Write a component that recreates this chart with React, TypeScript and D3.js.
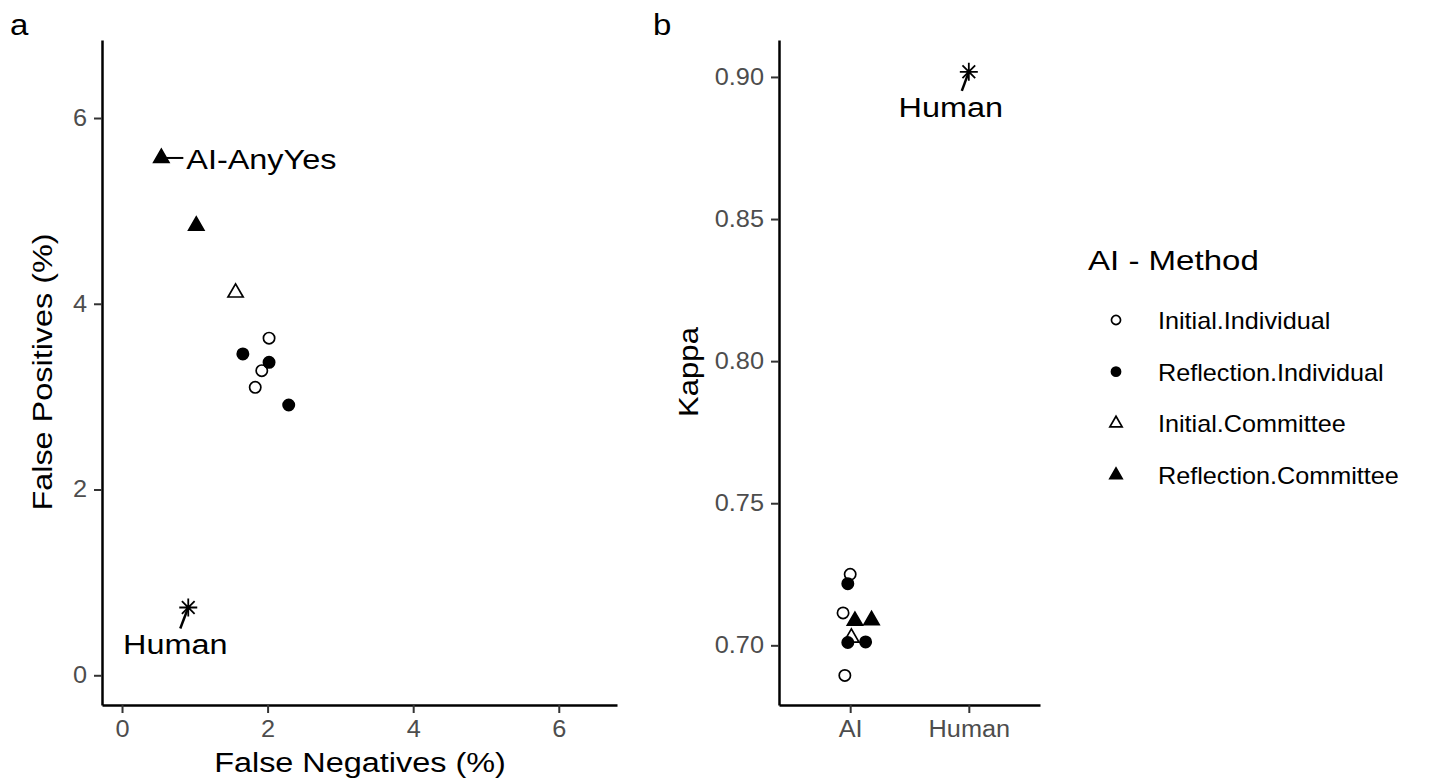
import React, { useEffect, useRef } from "react";
import * as d3 from "d3";

// panel a: false negatives / false positives (%)
const methods = ["Initial.Individual", "Reflection.Individual", "Initial.Committee", "Reflection.Committee"];
const aMethod = ["Reflection.Committee", "Reflection.Committee", "Initial.Committee", "Initial.Individual", "Reflection.Individual", "Reflection.Individual", "Initial.Individual", "Initial.Individual", "Reflection.Individual"];
const aFalseNeg = [0.54, 1.02, 1.56, 2.02, 1.66, 2.02, 1.92, 1.83, 2.29];
const aFalsePos = [5.57, 4.84, 4.12, 3.63, 3.46, 3.37, 3.28, 3.10, 2.91];
const humanFN = 0.91;
const humanFP = 0.73;

// panel b: kappa
const bGroups = ["AI", "Human"];
const bMethod = ["Initial.Individual", "Reflection.Individual", "Initial.Individual", "Reflection.Committee", "Reflection.Committee", "Initial.Committee", "Reflection.Individual", "Reflection.Individual", "Initial.Individual"];
const bKappa = [0.725, 0.7217, 0.7114, 0.7086, 0.7088, 0.7027, 0.701, 0.7012, 0.6894];
const bJitter = [0.0, -0.02, -0.06, 0.04, 0.18, 0.01, -0.02, 0.13, -0.045];
const humanKappa = 0.9018;

const xTicksA = [0, 2, 4, 6];
const yTicksA = [0, 2, 4, 6];
const yTicksB = [0.7, 0.75, 0.8, 0.85, 0.9];

const FONT = "'Liberation Sans', Arial, sans-serif";

const App = () => {
  const svgRef = useRef<SVGSVGElement>(null);

  useEffect(() => {
    const svg = d3.select(svgRef.current);
    svg.selectAll("*").remove();

    // the original renders text somewhat wider than Arial, stretch a bit
    const stretch = (sel: any, k: number) =>
      sel.each(function (this: SVGTextElement) {
        const w = this.getComputedTextLength();
        d3.select(this).attr("textLength", w * k).attr("lengthAdjust", "spacingAndGlyphs");
      });

    const symFor = (m: string, size: number) =>
      d3.symbol().type(m.includes("Committee") ? d3.symbolTriangle : d3.symbolCircle).size(size)();
    const isFilled = (m: string) => m.startsWith("Reflection");

    const asterisk = (r: number) => {
      const d = r * Math.SQRT1_2;
      return `M0,${-r}L0,${r}M${-r},0L${r},0M${-d},${-d}L${d},${d}M${-d},${d}L${d},${-d}`;
    };

    const drawPoint = (g: any, m: string, cx: number, cy: number, size: number) => {
      g.append("path")
        .attr("d", symFor(m, size))
        .attr("transform", `translate(${cx},${cy})`)
        .attr("fill", isFilled(m) ? "#000" : "none")
        .attr("stroke", "#000")
        .attr("stroke-width", 1.7);
    };

    const styleAxis = (g: any) => {
      g.select(".domain").attr("stroke", "#000").attr("stroke-width", 2.5);
      g.selectAll(".tick line").attr("stroke", "#333").attr("stroke-width", 2);
      g.selectAll(".tick text").attr("fill", "#4d4d4d").attr("font-size", 23).attr("font-family", FONT)
        .call(stretch, 1.1);
    };

    const label = (g: any, txt: string, size: number, k: number) =>
      g.append("text").attr("font-size", size).attr("font-family", FONT).attr("fill", "#000").text(txt).call(stretch, k);

    // ---------- panel a ----------
    const ax = d3.scaleLinear().domain([-0.275, 6.8]).range([102, 617]);
    const ay = d3.scaleLinear().domain([-0.32, 6.84]).range([705, 40]);

    const gA = svg.append("g");
    gA.append("g")
      .attr("transform", "translate(0,705)")
      .call(d3.axisBottom(ax).tickValues(xTicksA).tickSize(8).tickPadding(8).tickSizeOuter(0))
      .call(styleAxis);
    gA.append("g")
      .attr("transform", "translate(102,0)")
      .call(d3.axisLeft(ay).tickValues(yTicksA).tickSize(8).tickPadding(7).tickSizeOuter(0))
      .call(styleAxis);

    aMethod.forEach((m, i) => drawPoint(gA, m, ax(aFalseNeg[i]), ay(aFalsePos[i]), 100));

    // human point
    const hx = ax(humanFN);
    const hy = ay(humanFP);
    gA.append("path")
      .attr("d", asterisk(9))
      .attr("transform", `translate(${hx},${hy})`)
      .attr("stroke", "#000").attr("stroke-width", 1.8).attr("fill", "none");

    // labels with repel segments
    const tri0x = ax(aFalseNeg[0]);
    const tri0y = ay(aFalsePos[0]);
    gA.append("line")
      .attr("x1", tri0x).attr("y1", tri0y).attr("x2", tri0x + 22).attr("y2", tri0y)
      .attr("stroke", "#000").attr("stroke-width", 2);
    label(gA, "AI-AnyYes", 27, 1.2).attr("x", tri0x + 25).attr("y", tri0y + 11);

    gA.append("line")
      .attr("x1", hx).attr("y1", hy).attr("x2", hx - 8).attr("y2", hy + 21)
      .attr("stroke", "#000").attr("stroke-width", 2.5);
    label(gA, "Human", 27, 1.2).attr("x", hx - 13).attr("y", hy + 47).attr("text-anchor", "middle");

    label(gA, "False Negatives (%)", 27, 1.2).attr("x", 360).attr("y", 772).attr("text-anchor", "middle");
    label(gA, "False Positives (%)", 27, 1.2)
      .attr("transform", "translate(52,372) rotate(-90)")
      .attr("text-anchor", "middle");
    label(gA, "a", 30, 1.1).attr("x", 10).attr("y", 35);

    // ---------- panel b ----------
    const bx = d3.scalePoint<string>().domain(bGroups).range([779, 1040]).padding(0.6);
    const by = d3.scaleLinear().domain([0.679, 0.913]).range([705, 40]);
    const step = bx.step();

    const gB = svg.append("g");
    gB.append("g")
      .attr("transform", "translate(0,705)")
      .call(d3.axisBottom(bx).tickSize(8).tickPadding(8).tickSizeOuter(0))
      .call(styleAxis);
    gB.append("g")
      .attr("transform", "translate(779,0)")
      .call(d3.axisLeft(by).tickValues(yTicksB).tickFormat(d3.format(".2f")).tickSize(8).tickPadding(7).tickSizeOuter(0))
      .call(styleAxis);

    bMethod.forEach((m, i) => drawPoint(gB, m, (bx("AI") as number) + bJitter[i] * step, by(bKappa[i]), 100));

    const hbx = bx("Human") as number;
    const hby = by(humanKappa);
    gB.append("path")
      .attr("d", asterisk(9))
      .attr("transform", `translate(${hbx},${hby})`)
      .attr("stroke", "#000").attr("stroke-width", 1.8).attr("fill", "none");
    gB.append("line")
      .attr("x1", hbx).attr("y1", hby).attr("x2", hbx - 7).attr("y2", hby + 19)
      .attr("stroke", "#000").attr("stroke-width", 2.5);
    label(gB, "Human", 27, 1.2).attr("x", hbx - 18).attr("y", hby + 45).attr("text-anchor", "middle");

    label(gB, "Kappa", 27, 1.15)
      .attr("transform", "translate(698,372) rotate(-90)")
      .attr("text-anchor", "middle");
    label(gB, "b", 30, 1.1).attr("x", 653).attr("y", 35);

    // ---------- legend ----------
    const lg = svg.append("g");
    label(lg, "AI - Method", 28, 1.18).attr("x", 1088).attr("y", 270);
    const ly = d3.scalePoint<string>().domain(methods).range([320, 475]);
    methods.forEach((m) => {
      drawPoint(lg, m, 1116, ly(m) as number, 65);
      label(lg, m, 24, 1.05).attr("x", 1158).attr("y", (ly(m) as number) + 9);
    });
  }, []);

  return (
    <svg
      ref={svgRef}
      width={1429}
      height={784}
      style={{ display: "block", position: "absolute", top: 0, left: 0, background: "#fff" }}
    />
  );
};

export default App;
